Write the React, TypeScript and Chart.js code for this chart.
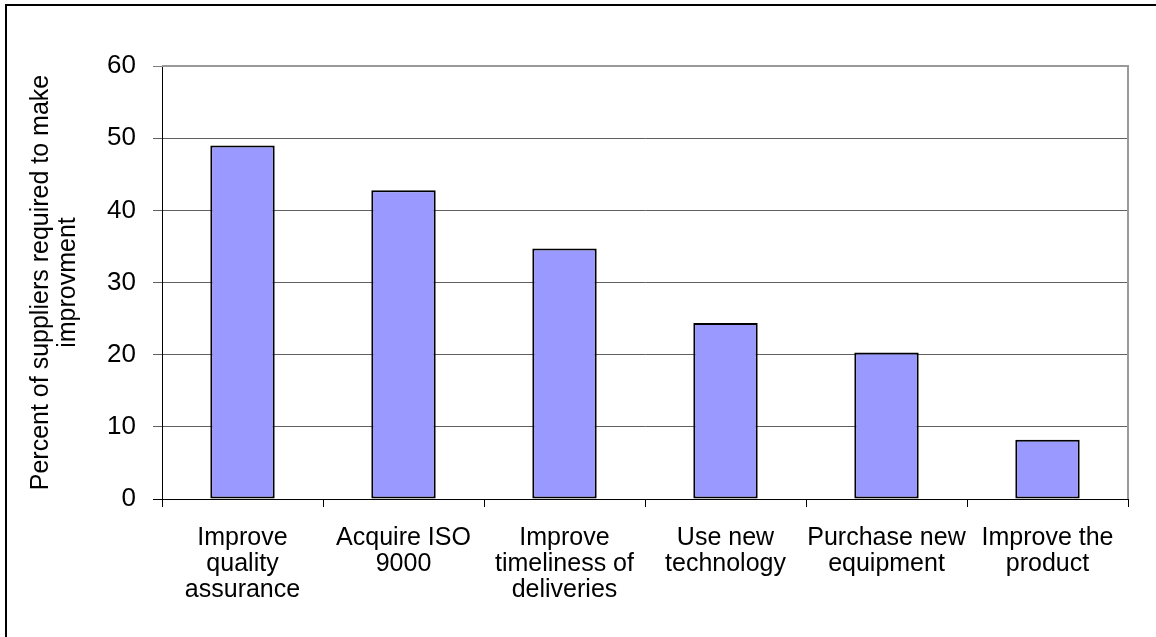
import React, { useEffect, useRef } from "react";
import { Chart, registerables } from "chart.js";

Chart.register(...registerables);

// Improvement categories (multi-line tick labels)
const categories: string[][] = [
  ["Improve", "quality", "assurance"],
  ["Acquire ISO", "9000"],
  ["Improve", "timeliness of", "deliveries"],
  ["Use new", "technology"],
  ["Purchase new", "equipment"],
  ["Improve the", "product"],
];

// Percent of suppliers required to make each improvement
const percents: number[] = [49.0, 42.8, 34.7, 24.4, 20.3, 8.2];

const yTitle: string[] = ["Percent of suppliers required to make", "improvment"];
const yMin = 0;
const yMax = 60;
const yStep = 10;

const FONT = "'Liberation Sans', Arial, sans-serif";

// Grey frame along the top and right of the plot area
const plotFrame = {
  id: "plotFrame",
  beforeDatasetsDraw(chart: any) {
    const { ctx, chartArea } = chart;
    ctx.save();
    ctx.strokeStyle = "#999999";
    ctx.lineWidth = 2;
    ctx.beginPath();
    ctx.moveTo(chartArea.left, chartArea.top);
    ctx.lineTo(chartArea.right, chartArea.top);
    ctx.lineTo(chartArea.right, chartArea.bottom);
    ctx.stroke();
    ctx.restore();
  },
};

export default function App() {
  const canvasRef = useRef<HTMLCanvasElement>(null);

  useEffect(() => {
    if (!canvasRef.current) return;
    const chart = new Chart(canvasRef.current, {
      type: "bar",
      data: {
        labels: categories,
        datasets: [
          {
            data: percents,
            backgroundColor: "#9999FF",
            borderColor: "#000000",
            borderWidth: 2,
            borderSkipped: false,
            barPercentage: 0.4,
            categoryPercentage: 1.0,
          },
        ],
      },
      options: {
        responsive: false,
        animation: false,
        layout: { padding: { left: 0, top: 66, right: 28, bottom: 0 } },
        plugins: {
          legend: { display: false },
          tooltip: { enabled: false },
        },
        scales: {
          x: {
            offset: true,
            grid: {
              offset: true,
              drawOnChartArea: false,
              drawTicks: true,
              tickLength: 8,
              color: "#000000",
            },
            border: { display: true, color: "#000000", width: 1 },
            ticks: {
              autoSkip: false,
              maxRotation: 0,
              minRotation: 0,
              padding: 18,
              color: "#000000",
              font: { family: FONT, size: 25, lineHeight: 1.04 },
            },
            afterFit: (s: any) => {
              s.height = 138;
            },
          },
          y: {
            min: yMin,
            max: yMax,
            grid: {
              color: (c: any) =>
                c.tick && c.tick.value === yMin
                  ? "#000000"
                  : c.tick && c.tick.value === yMax
                  ? "#808080"
                  : "#5f5f5f",
              lineWidth: 1,
              tickLength: 9,
            },
            border: { display: true, color: "#000000", width: 1 },
            ticks: {
              stepSize: yStep,
              padding: 17,
              color: "#000000",
              font: { family: FONT, size: 26 },
            },
            title: {
              display: true,
              text: yTitle,
              color: "#000000",
              font: { family: FONT, size: 25, lineHeight: 1.08 },
              padding: { top: 28, bottom: 0 },
            },
            afterFit: (s: any) => {
              s.width = 162;
            },
          },
        },
      },
      plugins: [plotFrame],
    });
    return () => chart.destroy();
  }, []);

  return (
    <div
      style={{
        position: "fixed",
        left: 0,
        top: 0,
        width: 1156,
        height: 637,
        overflow: "hidden",
        background: "#ffffff",
      }}
    >
      <div
        style={{
          position: "absolute",
          left: 5,
          top: 4,
          width: 1300,
          height: 800,
          border: "2px solid #000000",
          boxSizing: "border-box",
        }}
      />
      <canvas
        ref={canvasRef}
        width={1156}
        height={637}
        style={{ position: "absolute", left: 0, top: 0, width: 1156, height: 637 }}
      />
    </div>
  );
}
